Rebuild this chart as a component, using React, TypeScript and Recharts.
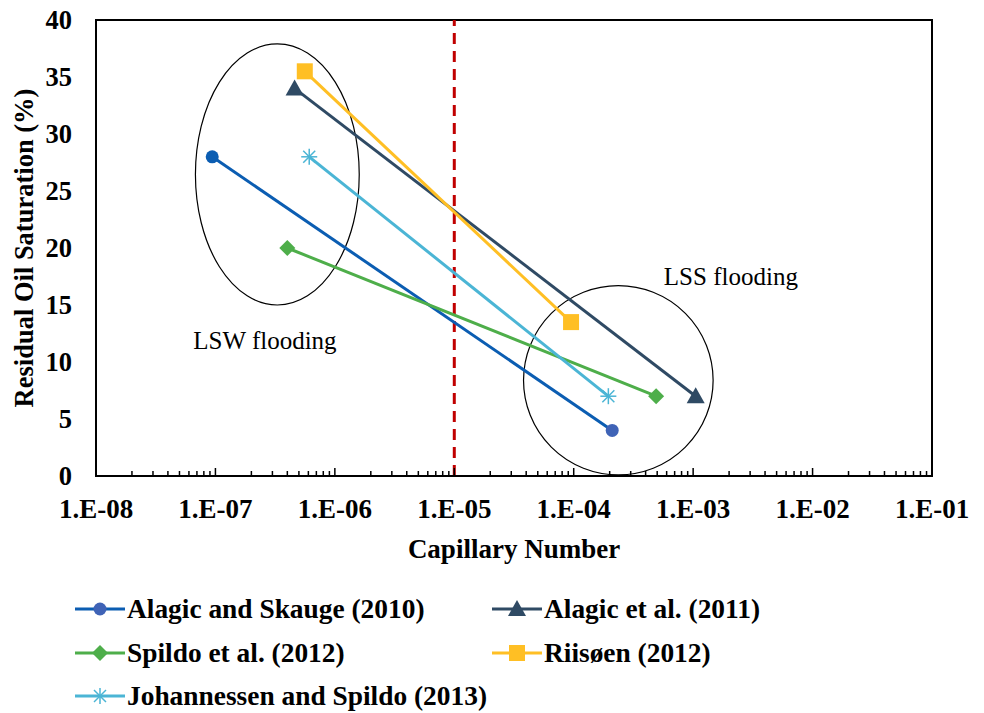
import { LineChart, Line, XAxis, YAxis, ReferenceLine, ReferenceArea, ReferenceDot, Label } from 'recharts';

// capillary number (x) and residual oil saturation in % (y), two points per study
const skaugeX = [9.4e-8, 2.1e-4];
const skaugeY = [28, 4];
const alagicX = [4.6e-7, 1.05e-3];
const alagicY = [34, 7];
const spildoX = [4.0e-7, 4.9e-4];
const spildoY = [20, 7];
const riisoenX = [5.6e-7, 9.5e-5];
const riisoenY = [35.5, 13.5];
const johanX = [6.1e-7, 1.95e-4];
const johanY = [28, 7];

const yTicks = [0, 5, 10, 15, 20, 25, 30, 35, 40];
const decades = [-8, -7, -6, -5, -4, -3, -2];

const xTicks: number[] = [];
decades.forEach(d => {
  for (let k = 1; k <= 9; k++) xTicks.push(k * Math.pow(10, d));
});
xTicks.push(1e-1);

const toRows = (xs: number[], ys: number[]) => xs.map((x, i) => ({ x, y: ys[i] }));

const FONT = 'Liberation Serif';

const isMajor = (v: number) => {
  const l = Math.log10(v);
  return Math.abs(l - Math.round(l)) < 1e-9;
};

const fmtDecade = (v: number) => {
  const e = Math.round(Math.log10(v));
  const s = String(Math.abs(e)).padStart(2, '0');
  return `1.E${e < 0 ? '-' : '+'}${s}`;
};

const XTick = (props: any) => {
  const { x, y, payload } = props;
  const major = isMajor(payload.value);
  return (
    <g>
      <line x1={x} x2={x} y1={y} y2={y - (major ? 8 : 5)} stroke="#000" strokeWidth={1.5} />
      {major && (
        <text x={x} y={y + 42} textAnchor="middle" style={{ fontFamily: FONT, fontWeight: 'bold', fontSize: 27 }} fill="#000">
          {fmtDecade(payload.value)}
        </text>
      )}
    </g>
  );
};

type Shape = 'circle' | 'triangle' | 'diamond' | 'square' | 'star';

const Marker = ({ cx, cy, shape, color }: { cx: number; cy: number; shape: Shape; color: string }) => {
  if (cx == null || cy == null) return null;
  switch (shape) {
    case 'circle':
      return <circle cx={cx} cy={cy} r={6.5} fill={color} />;
    case 'triangle':
      return <polygon points={`${cx},${cy - 9} ${cx + 9},${cy + 7} ${cx - 9},${cy + 7}`} fill={color} />;
    case 'diamond':
      return <polygon points={`${cx},${cy - 8} ${cx + 8},${cy} ${cx},${cy + 8} ${cx - 8},${cy}`} fill={color} />;
    case 'square':
      return <rect x={cx - 8} y={cy - 8} width={16} height={16} fill={color} />;
    case 'star':
      return (
        <g stroke={color} strokeWidth={1.5}>
          <line x1={cx - 8} x2={cx + 8} y1={cy} y2={cy} />
          <line x1={cx} x2={cx} y1={cy - 8} y2={cy + 8} />
          <line x1={cx - 6} x2={cx + 6} y1={cy - 6} y2={cy + 6} />
          <line x1={cx - 6} x2={cx + 6} y1={cy + 6} y2={cy - 6} />
        </g>
      );
  }
  return null;
};

const SERIES: { name: string; xs: number[]; ys: number[]; color: string; dotColor: string; shape: Shape }[] = [
  { name: 'Alagic and Skauge (2010)', xs: skaugeX, ys: skaugeY, color: '#0B5DB2', dotColor: '#3F63B6', shape: 'circle' },
  { name: 'Alagic et al. (2011)', xs: alagicX, ys: alagicY, color: '#2F4A64', dotColor: '#2F4A64', shape: 'triangle' },
  { name: 'Spildo et al. (2012)', xs: spildoX, ys: spildoY, color: '#4EAE4A', dotColor: '#4EAE4A', shape: 'diamond' },
  { name: 'Riisøen (2012)', xs: riisoenX, ys: riisoenY, color: '#FFBF24', dotColor: '#FFBF24', shape: 'square' },
  { name: 'Johannessen and Spildo (2013)', xs: johanX, ys: johanY, color: '#4BB5D5', dotColor: '#4BB5D5', shape: 'star' },
];

const EllipseShape = (props: any) => {
  const { x, y, width, height } = props;
  return (
    <ellipse cx={x + width / 2} cy={y + height / 2} rx={Math.abs(width) / 2} ry={Math.abs(height) / 2}
      fill="none" stroke="#000" strokeWidth={1.2} />
  );
};

const TextMark = (text: string) => (props: any) => (
  <text x={props.cx} y={props.cy} textAnchor="middle" dominantBaseline="central" style={{ fontFamily: FONT, fontSize: 25 }} fill="#000">
    {text}
  </text>
);

const LegendItem = ({ s }: { s: typeof SERIES[number] }) => (
  <div style={{ display: 'flex', alignItems: 'center', height: 26 }}>
    <svg width={54} height={20} style={{ marginRight: 0 }}>
      <line x1={2} x2={52} y1={10} y2={10} stroke={s.color} strokeWidth={3} />
      <Marker cx={27} cy={10} shape={s.shape} color={s.dotColor} />
    </svg>
    <span style={{ fontFamily: FONT, fontWeight: 'bold', fontSize: 27.4, lineHeight: '26px', whiteSpace: 'nowrap' }}>{s.name}</span>
  </div>
);

export default function App() {
  return (
    <div style={{ position: 'absolute', left: 0, top: 0, width: 984, height: 713, background: '#fff', fontFamily: FONT }}>
      <LineChart width={984} height={580} margin={{ top: 20, right: 52, bottom: 0, left: 0 }}>
        <XAxis
          dataKey="x"
          type="number"
          scale="log"
          domain={[1e-8, 1e-1]}
          ticks={xTicks}
          interval={0}
          allowDataOverflow
          tick={<XTick />}
          tickLine={false}
          tickSize={0}
          tickMargin={0}
          axisLine={{ stroke: '#000', strokeWidth: 2 }}
          height={104}
        >
          <Label value="Capillary Number" position="insideBottom" offset={22}
            style={{ fontFamily: FONT, fontWeight: 'bold', fontSize: 27, fill: '#000' }} />
        </XAxis>
        <YAxis
          type="number"
          domain={[0, 40]}
          ticks={yTicks}
          interval={0}
          width={96}
          tickLine={false}
          tickSize={0}
          tickMargin={24}
          axisLine={{ stroke: '#000', strokeWidth: 2 }}
          tick={{ style: { fontFamily: FONT, fontWeight: 'bold', fontSize: 26.5 }, fill: '#000' }}
        >
          <Label value="Residual Oil Saturation (%)" angle={-90} position="insideLeft" offset={24}
            style={{ textAnchor: 'middle', fontFamily: FONT, fontWeight: 'bold', fontSize: 26.5, fill: '#000' }} />
        </YAxis>
        <ReferenceArea x1={1e-8} x2={1e-1} y1={0} y2={40} fill="none" stroke="#000" strokeWidth={2} ifOverflow="visible" />
        <ReferenceLine x={1e-5} stroke="#C00000" strokeWidth={3} strokeDasharray="11 7" />
        <ReferenceArea x1={6.8e-8} x2={1.6e-6} y1={15} y2={37.9} shape={<EllipseShape />} ifOverflow="visible" />
        <ReferenceArea x1={3.8e-5} x2={1.47e-3} y1={0.1} y2={16.7} shape={<EllipseShape />} ifOverflow="visible" />
        <ReferenceDot x={2.6e-7} y={11.9} r={0} shape={TextMark('LSW flooding')} ifOverflow="visible" />
        <ReferenceDot x={2.07e-3} y={17.5} r={0} shape={TextMark('LSS flooding')} ifOverflow="visible" />
        {SERIES.map(s => (
          <Line
            key={s.name}
            data={toRows(s.xs, s.ys)}
            dataKey="y"
            name={s.name}
            stroke={s.color}
            strokeWidth={3}
            isAnimationActive={false}
            dot={(p: any) => <Marker key={`${s.name}-${p.index}`} cx={p.cx} cy={p.cy} shape={s.shape} color={p.index === 0 ? s.color : s.dotColor} />}
            activeDot={false}
          />
        ))}
      </LineChart>
      <div style={{ position: 'absolute', left: 73, top: 596, display: 'grid', gridTemplateColumns: '417px auto', rowGap: 17.5 }}>
        {SERIES.map(s => <LegendItem key={s.name} s={s} />)}
      </div>
    </div>
  );
}
